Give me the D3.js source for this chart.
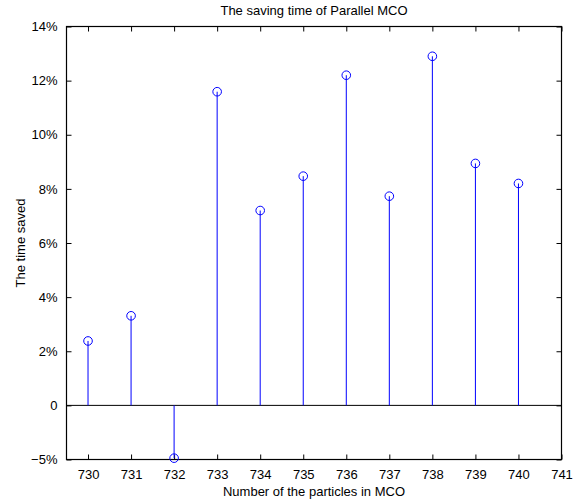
<!DOCTYPE html>
<html>
<head>
<meta charset="utf-8">
<script src="https://cdn.jsdelivr.net/npm/d3@7"></script>
<style>
  body { margin: 0; background: #fff; }
  svg { display: block; font-family: "Liberation Sans", Arial, sans-serif; }
</style>
</head>
<body>
<svg id="chart" width="581" height="502"></svg>
<script>
const particles = [730, 731, 732, 733, 734, 735, 736, 737, 738, 739, 740];
const timeSaved = [0.0238, 0.0331, -0.0195, 0.1159, 0.0720, 0.0847, 0.1220, 0.0773, 0.1290, 0.0894, 0.0820];
const xTicks = [730, 731, 732, 733, 734, 735, 736, 737, 738, 739, 740, 741];
const yTicks = [-0.02, 0, 0.02, 0.04, 0.06, 0.08, 0.10, 0.12, 0.14];
const yTickLabels = ["\u22125%", "0", "2%", "4%", "6%", "8%", "10%", "12%", "14%"];

const W = 581, H = 502;
const m = { left: 66.5, right: 19.5, top: 26.5, bottom: 42.5 };
const svg = d3.select("#chart");

const x = d3.scaleLinear().domain([729.5, 741]).range([m.left, W - m.right]);
const y = d3.scaleLinear().domain([-0.02, 0.14]).range([H - m.bottom, m.top]);

const tickLen = 5;
// bottom axis
const gx = svg.append("g").attr("transform", `translate(0,${H - m.bottom})`)
  .call(d3.axisBottom(x).tickValues(xTicks).tickFormat(d3.format("d")).tickSizeInner(-tickLen).tickSizeOuter(0).tickPadding(10));
// top axis (ticks only)
const gxt = svg.append("g").attr("transform", `translate(0,${m.top})`)
  .call(d3.axisTop(x).tickValues(xTicks).tickFormat("").tickSizeInner(-tickLen).tickSizeOuter(0));
// left axis
const gy = svg.append("g").attr("transform", `translate(${m.left},0)`)
  .call(d3.axisLeft(y).tickValues(yTicks).tickFormat((d, i) => yTickLabels[i]).tickSizeInner(-tickLen).tickSizeOuter(0).tickPadding(9));
// right axis (ticks only)
const gyr = svg.append("g").attr("transform", `translate(${W - m.right},0)`)
  .call(d3.axisRight(y).tickValues(yTicks).tickFormat("").tickSizeInner(-tickLen).tickSizeOuter(0));

[gx, gxt, gy, gyr].forEach(g => {
  g.select(".domain").remove();
  g.selectAll(".tick line").attr("stroke", "#000").attr("stroke-width", 1);
  g.selectAll("text").attr("fill", "#000").attr("font-size", 13);
});

// box
svg.append("rect")
  .attr("x", m.left).attr("y", m.top)
  .attr("width", W - m.left - m.right).attr("height", H - m.top - m.bottom)
  .attr("fill", "none").attr("stroke", "#000").attr("stroke-width", 1.2);

// zero baseline
svg.append("line")
  .attr("x1", m.left).attr("x2", W - m.right)
  .attr("y1", y(0)).attr("y2", y(0))
  .attr("stroke", "#000").attr("stroke-width", 1);

const data = particles.map((p, i) => ({ p, v: timeSaved[i] }));

// stems
svg.append("g").selectAll("line").data(data).join("line")
  .attr("x1", d => x(d.p)).attr("x2", d => x(d.p))
  .attr("y1", y(0)).attr("y2", d => y(d.v))
  .attr("stroke", "#0000ff").attr("stroke-width", 1);

// markers
svg.append("g").selectAll("circle").data(data).join("circle")
  .attr("cx", d => x(d.p)).attr("cy", d => y(d.v)).attr("r", 4.3)
  .attr("fill", "none").attr("stroke", "#0000ff").attr("stroke-width", 1);

// title
svg.append("text").attr("x", (m.left + W - m.right) / 2).attr("y", 15)
  .attr("text-anchor", "middle").attr("font-size", 13).attr("fill", "#000")
  .text("The saving time of Parallel MCO");

// x label
svg.append("text").attr("x", (m.left + W - m.right) / 2).attr("y", 496)
  .attr("text-anchor", "middle").attr("font-size", 13).attr("fill", "#000")
  .text("Number of the particles in MCO");

// y label
svg.append("text").attr("transform", `translate(25,${(m.top + H - m.bottom) / 2}) rotate(-90)`)
  .attr("text-anchor", "middle").attr("font-size", 13).attr("fill", "#000")
  .text("The time saved");
</script>
</body>
</html>
